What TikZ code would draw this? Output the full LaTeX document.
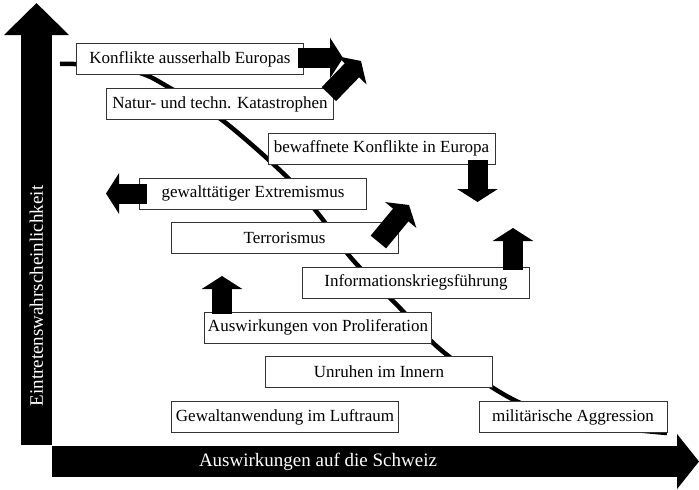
\documentclass[tikz,border=0pt]{standalone}
\usepackage{fontspec}
\setmainfont{Liberation Serif}
\usetikzlibrary{arrows.meta}

\begin{document}
\begin{tikzpicture}[x=1pt,y=-1pt,
box/.style={draw=black!80,line width=.8pt,fill=white,minimum width=227pt,minimum height=31pt,inner sep=0pt,font=\fontsize{17}{20}\selectfont},
axis/.style={line width=31pt,draw=black},
axislabel/.style={text=white,font=\fontsize{19}{22}\selectfont},
fatarrow/.style={line width=20pt,-{Triangle[width=40pt,length=13pt]}},
trend/.style={line width=4.5pt}]
\useasboundingbox (0,0) rectangle (699,490);

% axes
\coordinate (Origin) at (36.5,445);
\coordinate (YTop) at (36.5,3);
\coordinate (XStart) at (52,461.5);
\coordinate (XEnd) at (699,461.5);
\draw[axis,-{Triangle[width=63pt,length=32pt]}] (Origin) -- (YTop);
\draw[axis,-{Triangle[width=54pt,length=22pt]}] (XStart) -- (XEnd);
\node[axislabel,rotate=90] (YLabel) at (36.5,296) {Eintretenswahrscheinlichkeit};
\node[axislabel] (XLabel) at (318,462) {Auswirkungen auf die Schweiz};

% trend line behind the boxes
\draw[trend] plot[smooth,tension=.55] coordinates {(60,64) (95,65) (140,73) (170,88) (222,120)
  (287,177) (320,216) (352,259) (397,305) (441,350) (503,394) (555,416) (615,428) (645,431) (667,433)};

% threats
\node[box] (Konflikte) at (190,59) {Konflikte ausserhalb Europas};
\node[box] (Natur) at (220,104) {Natur- und techn. Katastrophen};
\node[box] (Bewaffnet) at (381.5,148.5) {bewaffnete Konflikte in Europa};
\node[box] (Extremismus) at (253,193.5) {gewalttätiger Extremismus};
\node[box] (Terrorismus) at (284.5,238) {Terrorismus};
\node[box] (Information) at (416,282.5) {Informationskriegsführung};
\node[box] (Proliferation) at (318,327.5) {Auswirkungen von Proliferation};
\node[box] (Unruhen) at (379,371.5) {Unruhen im Innern};
\node[box] (Luftraum) at (285,417) {Gewaltanwendung im Luftraum};
\node[box,minimum width=188pt] (Aggression) at (573,417) {militärische Aggression};

% trends
\coordinate (KonfliktePfeil) at (343,58);
\coordinate (NaturPfeil) at (361,61);
\coordinate (BewaffnetPfeil) at (477.5,202);
\coordinate (ExtremismusPfeil) at (106,193.5);
\coordinate (TerrorismusPfeil) at (409,205);
\coordinate (InformationPfeil) at (513,228);
\coordinate (ProliferationPfeil) at (222,276);

\draw[fatarrow] ([xshift=-6pt,yshift=1pt]Konflikte.east) -- (KonfliktePfeil);
\draw[fatarrow] ([xshift=-5pt,yshift=-6pt]Natur.north east) -- (NaturPfeil);
\draw[fatarrow] ([xshift=96pt,yshift=4pt]Bewaffnet.south) -- (BewaffnetPfeil);
\draw[fatarrow] ([xshift=8pt]Extremismus.west) -- (ExtremismusPfeil);
\draw[fatarrow] ([xshift=-20pt,yshift=-4pt]Terrorismus.east) -- (TerrorismusPfeil);
\draw[fatarrow] ([xshift=97pt,yshift=-3pt]Information.north) -- (InformationPfeil);
\draw[fatarrow] ([xshift=-96pt,yshift=-2pt]Proliferation.north) -- (ProliferationPfeil);

\end{tikzpicture}
\end{document}
